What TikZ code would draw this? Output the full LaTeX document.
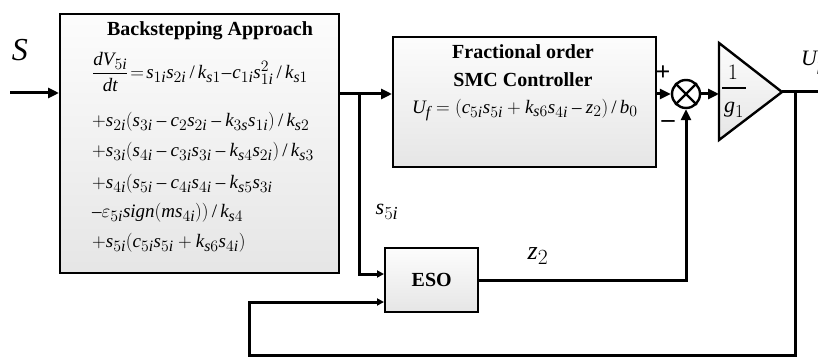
\RequirePackage{fix-cm}
\documentclass[tikz,border=0pt]{standalone}
\usepackage{amsmath}
\usepackage{fontspec}
\setmainfont{Liberation Serif}
\usepackage[italic]{mathastext}
\usetikzlibrary{arrows.meta}
\tikzset{
  blk/.style={draw=black, line width=2.4pt, top color=white!98!gray, bottom color=gray!20, anchor=north west, inner sep=0pt},
  wire/.style={line width=3pt},
  arr/.style={wire, -{Triangle[length=11pt,width=10pt]}},
  sarr/.style={wire, -{Triangle[length=7pt,width=7pt]}},
  ttl/.style={font=\fontsize{20}{22}\selectfont\bfseries, inner sep=0pt},
  eq/.style={font=\fontsize{19}{22}\selectfont, inner sep=0pt, anchor=west},
  lbl/.style={font=\fontsize{22}{24}\selectfont, inner sep=0pt}
}
\begin{document}
\begin{tikzpicture}[x=1pt,y=-1pt]
\useasboundingbox (0,0) rectangle (818,358);
% blocks
\node[blk, minimum width=279pt, minimum height=259pt] (bs) at (59,13) {};
\node[blk, minimum width=263pt, minimum height=130pt] (fr) at (392,36) {};
\node[blk, minimum width=93pt, minimum height=64pt] (eso) at (384,247) {};
\node[draw, line width=2.4pt, fill=white, circle, minimum size=28pt, inner sep=0pt] (sum) at (686,94) {};
\draw[line width=2.2pt] (sum.north west) -- (sum.south east) (sum.north east) -- (sum.south west);
% gain triangle
\draw[line width=2.4pt, top color=white!98!gray, bottom color=gray!20] (719,43) -- (782,92) -- (719,140) -- cycle;
\coordinate (triL) at (719,94);
\coordinate (triR) at (782,92);
% texts
\node[ttl] (t1) at (210,31) {Backstepping Approach};
\node[eq] (e1) at (92,72) {$\dfrac{dV_{5i}}{dt}\!=\!s_{1i}s_{2i}\,/\,k_{s1}\!-\!c_{1i}s_{1i}^{2}\,/\,k_{s1}$};
\node[eq] (e2) at (92,122) {$+s_{2i}(s_{3i}-c_{2}s_{2i}-k_{3s}s_{1i})\,/\,k_{s2}$};
\node[eq] (e3) at (92,152) {$+s_{3i}(s_{4i}-c_{3i}s_{3i}-k_{s4}s_{2i})\,/\,k_{s3}$};
\node[eq] (e4) at (92,184) {$+s_{4i}(s_{5i}-c_{4i}s_{4i}-k_{s5}s_{3i}$};
\node[eq] (e5) at (92,213) {$-\varepsilon_{5i}sign(ms_{4i}))\,/\,k_{s4}$};
\node[eq] (e6) at (92,243) {$+s_{5i}(c_{5i}s_{5i}+k_{s6}s_{4i})$};
\node[ttl] (t2) at (523,52) {Fractional order};
\node[ttl] (t3) at (523,80) {SMC Controller};
\node[eq] (e7) at (412,110) {$U_{f}=(c_{5i}s_{5i}+k_{s6}s_{4i}-z_{2})\,/\,b_{0}$};
\node[ttl] (t4) at (eso.center) {ESO};
% labels
\node[lbl, font=\fontsize{32}{34}\selectfont] (S) at (20,50) {$S$};
\node[lbl] (s5) at (387,212) {$s_{5i}$};
\node[lbl, font=\fontsize{26}{28}\selectfont] (z2) at (538,256) {$z_{2}$};
\node[lbl, anchor=west] (Uf) at (801,63) {$U_{f}$};
\node[inner sep=0pt, font=\fontsize{26}{26}\selectfont\bfseries] (plus) at (663,73) {+};
\node[inner sep=0pt, font=\fontsize{26}{26}\selectfont\bfseries] (minus) at (668,124) {\textendash};
\node[inner sep=0pt, font=\fontsize{22}{24}\selectfont] (g1n) at (733,72) {$1$};
\draw[line width=1.4pt] (722,88) -- (746,88);
\node[inner sep=0pt, font=\fontsize{22}{24}\selectfont] (g1d) at (734,110) {$g_{1}$};
% connectors
\coordinate (inS) at (10,93);
\draw[arr] (inS) -- (bs.west |- inS);
\coordinate (j) at (359,94);
\draw[arr] (bs.east |- j) -- (fr.west |- j);
\draw[sarr] (j) -- (359,274) -- (eso.west |- 0,274);
\draw[arr] (fr.east |- sum) -- (sum.west);
\draw[arr] (sum.east) -- (triL);
\coordinate (out) at (818,92);
\coordinate (tap) at (795,92);
\draw[wire] (triR) -- (out);
\draw[sarr] (tap) -- (795,355) -- (249,355) -- (249,302) -- (eso.west |- 0,302);
\draw[arr] (eso.east |- 0,280) -- (686,280) -- (sum.south);
\end{tikzpicture}
\end{document}
